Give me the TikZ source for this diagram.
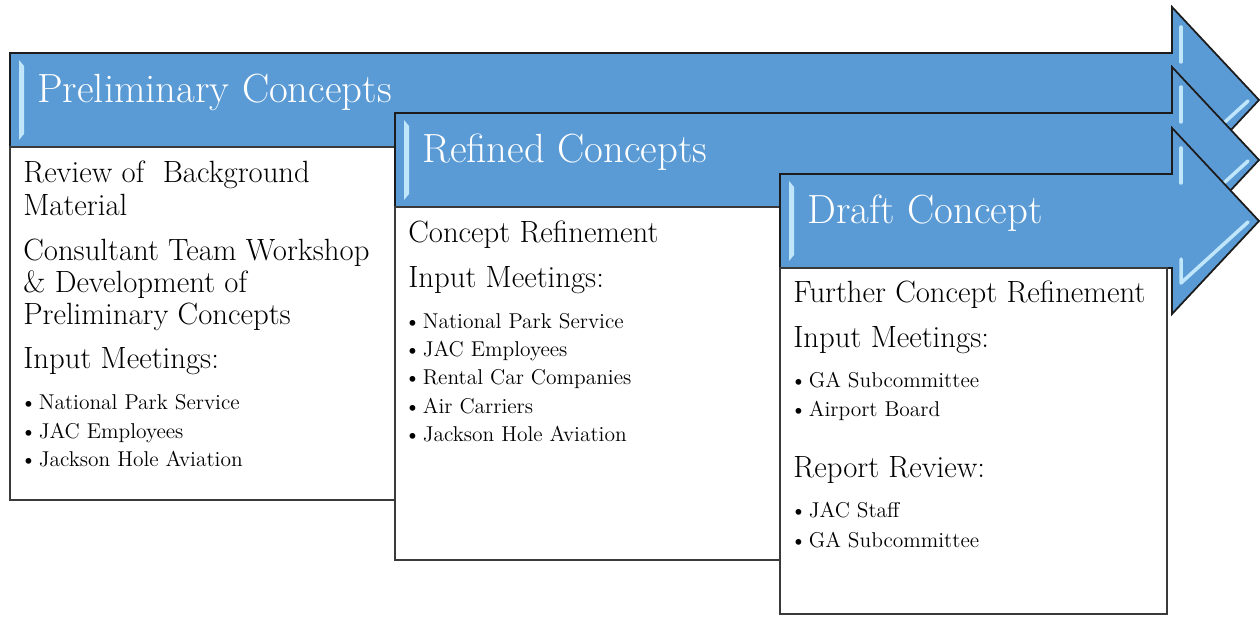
\documentclass[tikz,border=0pt]{standalone}
\usepackage{xcolor}
\usepackage{tikz}
\definecolor{stage_fill}{HTML}{5B9BD5}
\definecolor{stage_bevel}{HTML}{BFE6FA}
\definecolor{stage_line}{HTML}{1C1C1C}
\definecolor{box_line}{HTML}{3A3A3A}

\begin{document}
\begin{tikzpicture}[x={(.02cm,0)}, y={(0,-.02cm)}]
    \tikzstyle{stage} = [fill = stage_fill, draw = stage_line, line width = 1pt, line join = miter];
    \tikzstyle{bevel} = [draw = stage_bevel, line width = 2pt, line cap = round, line join = round];
    \tikzstyle{panel} = [fill = white, draw = box_line, line width = 1.1pt];
    \tikzstyle{title} = [anchor = base west, inner sep = 0, text = white, font = \fontsize{23.2}{26}\selectfont];
    \tikzstyle{item} = [anchor = base west, inner sep = 0, font = \fontsize{17.5}{20}\selectfont];
    \tikzstyle{point} = [anchor = base west, inner sep = 0, font = \fontsize{12.2}{14}\selectfont, execute at begin node = {\textbullet\kern1.2pt}];
    \useasboundingbox (0,0) rectangle (1260,617);
    \foreach \t/\c/\b/\n/\l in {10/100/500/pre/Preliminary Concepts,
        395/160/560/ref/Refined Concepts,
        780/221/614/dra/Draft Concept}
    {
    \draw[stage] (\t,\c-47) -- (1172,\c-47) -- (1172,\c-93) -- (1259,\c) -- (1172,\c+93) -- (1172,\c+47) -- (\t,\c+47) -- cycle;
    \fill[stage_bevel] (\t+9,\c-40) -- (\t+14,\c-34) -- (\t+14,\c+34) -- (\t+9,\c+40) -- cycle;
    \draw[bevel] (1181,\c-73) -- (1181,\c-38);
    \draw[bevel] (1181,\c+38) -- (1181,\c+62) -- (1248,\c+1);
    \draw[panel] (\t,\c+47) rectangle (\t+387,\b);
    \node[title] (\n) at (\t+27,\c+3) {\l};
    }
    \foreach \x/\y/\s/\l [count=\i] in {23/183/item/Review of~ Background,
        23/216/item/Material,
        23/261/item/Consultant Team Workshop,
        23/293/item/\& Development of,
        23/325/item/Preliminary Concepts,
        23/369/item/Input Meetings:,
        20/410/point/National Park Service,
        20/439/point/JAC Employees,
        20/467/point/Jackson Hole Aviation,
        408/243/item/Concept Refinement,
        408/288/item/Input Meetings:,
        404/329/point/National Park Service,
        404/357/point/JAC Employees,
        404/385/point/Rental Car Companies,
        404/414/point/Air Carriers,
        404/442/point/Jackson Hole Aviation,
        793/303/item/Further Concept Refinement,
        793/348/item/Input Meetings:,
        790/388/point/GA Subcommittee,
        790/417/point/Airport Board,
        793/478/item/Report Review:,
        790/518/point/JAC Staff,
        790/547/point/GA Subcommittee}
    {\node[\s] (line\i) at (\x,\y) {\l};}
\end{tikzpicture}
\end{document}
